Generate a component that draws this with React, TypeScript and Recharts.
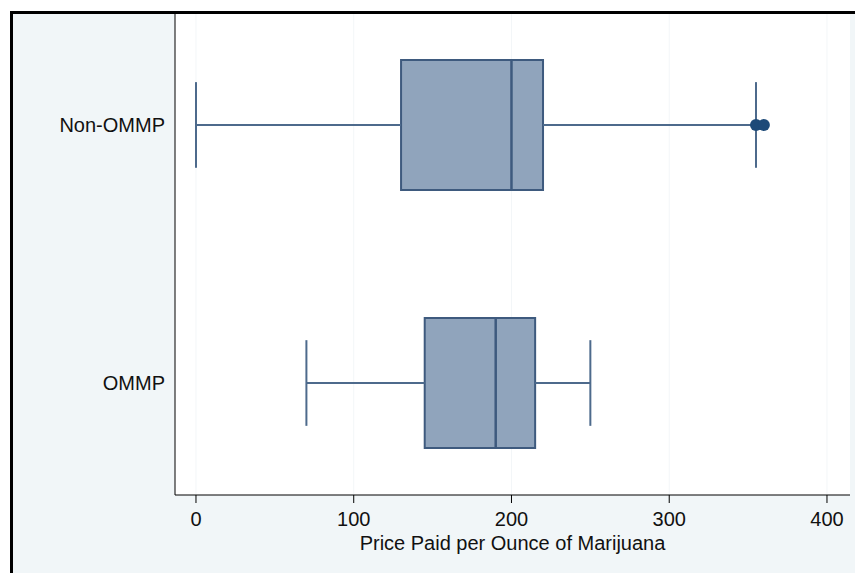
import {
  ComposedChart,
  Scatter,
  XAxis,
  YAxis,
  CartesianGrid,
  ReferenceArea,
  ReferenceLine,
} from 'recharts'

// Groups, listed top to bottom as they appear in the chart
const groups = ['Non-OMMP', 'OMMP']
const groupPos = [2, 1]

// Five-number summaries (price paid per ounce, $)
const whiskerLow = [0, 70]
const q1 = [130, 145]
const median = [200, 190]
const q3 = [220, 215]
const whiskerHigh = [355, 250]

// Outside values, Non-OMMP only
const outlierPrice = [355, 360]
const outlierGroup = [2, 2]

const xTicks = [0, 100, 200, 300, 400]

const BOX_HALF = 0.252
const CAP_HALF = 0.166
const BOX_FILL = '#90a4bc'
const BOX_EDGE = '#3e5a7e'
const WHISKER = '#4d6a8c'
const FONT = '"Liberation Sans", Arial, Helvetica, sans-serif'

const outliers = outlierPrice.map((x, i) => ({ x, y: outlierGroup[i] }))

export default function App() {
  return (
    <div
      style={{
        position: 'absolute',
        left: 0,
        top: 0,
        width: 855,
        height: 573,
        background: '#ffffff',
        overflow: 'hidden',
      }}
    >
      <div
        style={{
          position: 'absolute',
          left: 10,
          top: 11,
          width: 845,
          height: 562,
          borderTop: '3px solid #000',
          borderLeft: '3px solid #000',
          background: '#f1f6f8',
        }}
      />
      <div style={{ position: 'absolute', left: 0, top: 0 }}>
        <ComposedChart
          width={855}
          height={573}
          data={outliers}
          margin={{ top: 14, right: 5, bottom: 18, left: 10 }}
          style={{ fontFamily: FONT }}
        >
          <CartesianGrid
            horizontal={false}
            vertical
            stroke="#f3f6f8"
            fill="#ffffff"
            verticalValues={xTicks}
          />
          <XAxis
            type="number"
            dataKey="x"
            domain={[-13.3, 414.6]}
            ticks={xTicks}
            allowDataOverflow
            height={60}
            tickSize={8}
            tickMargin={9}
            stroke="#000"
            tick={{ fill: '#111', fontSize: 20 }}
            label={{
              value: 'Price Paid per Ounce of Marijuana',
              position: 'insideBottom',
              offset: 5,
              fill: '#111',
              fontSize: 20,
            }}
          />
          <YAxis
            type="number"
            dataKey="y"
            domain={[0.566, 2.43]}
            ticks={groupPos}
            allowDataOverflow
            width={165}
            tickLine={false}
            tickSize={6}
            tickMargin={4}
            stroke="#000"
            tick={{ fill: '#111', fontSize: 20 }}
            tickFormatter={(v: number) => groups[groupPos.indexOf(v)] ?? ''}
          />
          {groups.map((g, i) => {
            const y = groupPos[i]
            return [
              <ReferenceLine
                key={g + '-wl'}
                segment={[
                  { x: whiskerLow[i], y },
                  { x: q1[i], y },
                ]}
                stroke={WHISKER}
                strokeWidth={2}
              />,
              <ReferenceLine
                key={g + '-wh'}
                segment={[
                  { x: q3[i], y },
                  { x: whiskerHigh[i], y },
                ]}
                stroke={WHISKER}
                strokeWidth={2}
              />,
              <ReferenceLine
                key={g + '-cl'}
                segment={[
                  { x: whiskerLow[i], y: y - CAP_HALF },
                  { x: whiskerLow[i], y: y + CAP_HALF },
                ]}
                stroke={WHISKER}
                strokeWidth={2}
              />,
              <ReferenceLine
                key={g + '-ch'}
                segment={[
                  { x: whiskerHigh[i], y: y - CAP_HALF },
                  { x: whiskerHigh[i], y: y + CAP_HALF },
                ]}
                stroke={WHISKER}
                strokeWidth={2}
              />,
              <ReferenceArea
                key={g + '-box'}
                x1={q1[i]}
                x2={q3[i]}
                y1={y - BOX_HALF}
                y2={y + BOX_HALF}
                fill={BOX_FILL}
                fillOpacity={1}
                stroke={BOX_EDGE}
                strokeWidth={2}
              />,
              <ReferenceLine
                key={g + '-med'}
                segment={[
                  { x: median[i], y: y - BOX_HALF },
                  { x: median[i], y: y + BOX_HALF },
                ]}
                stroke={BOX_EDGE}
                strokeWidth={2.5}
              />,
            ]
          })}
          <Scatter
            data={outliers}
            dataKey="y"
            fill="#1d4a78"
            isAnimationActive={false}
            shape={(p: any) => <circle cx={p.cx} cy={p.cy} r={6} fill="#1d4a78" />}
          />
        </ComposedChart>
      </div>
    </div>
  )
}
